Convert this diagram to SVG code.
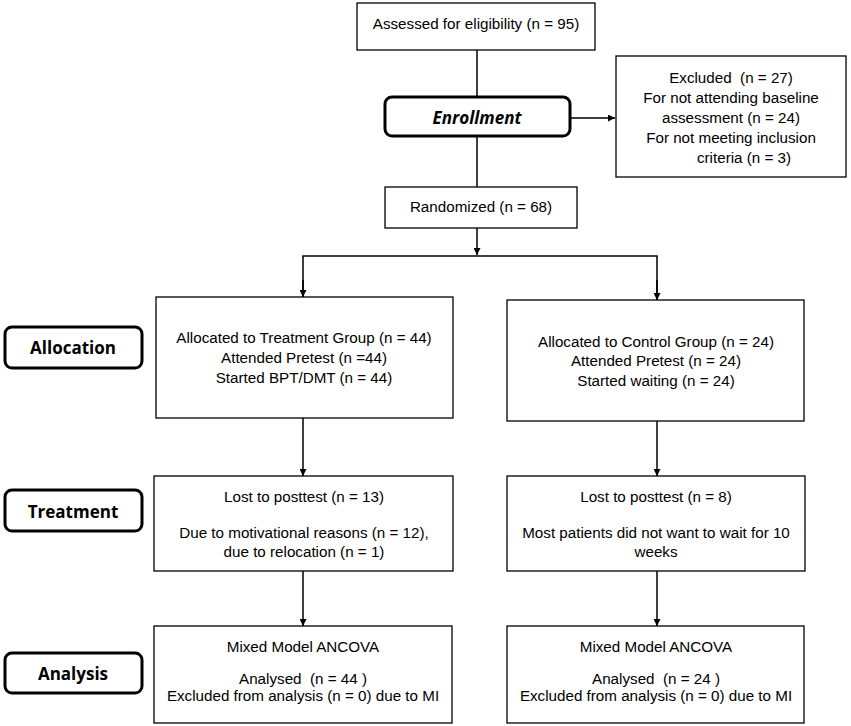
<svg xmlns="http://www.w3.org/2000/svg" width="851" height="726" viewBox="0 0 851 726">
<style>
.box{fill:#fff;stroke:#000;stroke-width:1.3}
.lbl{fill:#fff;stroke:#000;stroke-width:3}
.t{font-family:"Liberation Sans",Arial,sans-serif;font-size:15.2px;fill:#000;text-anchor:middle;white-space:pre}
.b{font-family:"Open Sans","Liberation Sans",sans-serif;font-size:17px;font-weight:bold;fill:#000;text-anchor:middle}
.ln{fill:none;stroke:#000;stroke-width:1.5}
</style>
<defs>
<marker id="ah" viewBox="0 0 10 10" refX="10" refY="5" markerWidth="7" markerHeight="7" orient="auto" markerUnits="userSpaceOnUse">
<path d="M0,0 L10,5 L0,10 z" fill="#000"/>
</marker>
</defs>
<g id="connectors">
<line class="ln" x1="477" y1="50" x2="477" y2="96"/>
<line class="ln" x1="477" y1="136" x2="477" y2="187"/>
<line class="ln" x1="570" y1="118" x2="615" y2="118" marker-end="url(#ah)"/>
<line class="ln" x1="477" y1="228" x2="477" y2="255" marker-end="url(#ah)"/>
<polyline class="ln" points="303,297 303,256 657,256 657,300"/>
<line class="ln" x1="303" y1="280" x2="303" y2="297" marker-end="url(#ah)"/>
<line class="ln" x1="657" y1="280" x2="657" y2="300" marker-end="url(#ah)"/>
<line class="ln" x1="303" y1="418" x2="303" y2="476" marker-end="url(#ah)"/>
<line class="ln" x1="657" y1="421" x2="657" y2="476" marker-end="url(#ah)"/>
<line class="ln" x1="303" y1="571" x2="303" y2="626" marker-end="url(#ah)"/>
<line class="ln" x1="657" y1="571" x2="657" y2="626" marker-end="url(#ah)"/>
</g>
<g id="assessed">
<rect class="box" x="357" y="3" width="238" height="47"/>
<text class="t" x="476" y="29">Assessed for eligibility (n = 95)</text>
</g>
<g id="enrollment">
<rect class="lbl" x="385" y="97" width="185" height="39" rx="7"/>
<text class="b" x="477" y="124" font-style="italic">Enrollment</text>
</g>
<g id="excluded">
<rect class="box" x="616" y="56" width="230" height="121"/>
<text class="t" x="731" y="83">Excluded  (n = 27)</text>
<text class="t" x="731" y="103">For not attending baseline</text>
<text class="t" x="731" y="123">assessment (n = 24)</text>
<text class="t" x="731" y="143">For not meeting inclusion</text>
<text class="t" x="744" y="163">criteria (n = 3)</text>
</g>
<g id="randomized">
<rect class="box" x="385" y="187" width="192" height="41"/>
<text class="t" x="481" y="212">Randomized (n = 68)</text>
</g>
<g id="allocation-label">
<rect class="lbl" x="5" y="327" width="137" height="41" rx="7"/>
<text class="b" x="73" y="354">Allocation</text>
</g>
<g id="treatment-label">
<rect class="lbl" x="5" y="490" width="137" height="41" rx="7"/>
<text class="b" x="73" y="518">Treatment</text>
</g>
<g id="analysis-label">
<rect class="lbl" x="5" y="653" width="137" height="40" rx="7"/>
<text class="b" x="73" y="680">Analysis</text>
</g>
<g id="alloc-treatment">
<rect class="box" x="156" y="297" width="297" height="121"/>
<text class="t" x="304" y="343">Allocated to Treatment Group (n = 44)</text>
<text class="t" x="304" y="363">Attended Pretest (n =44)</text>
<text class="t" x="304" y="383">Started BPT/DMT (n = 44)</text>
</g>
<g id="alloc-control">
<rect class="box" x="507" y="300" width="297" height="121"/>
<text class="t" x="656" y="347">Allocated to Control Group (n = 24)</text>
<text class="t" x="656" y="366">Attended Pretest (n = 24)</text>
<text class="t" x="656" y="386">Started waiting (n = 24)</text>
</g>
<g id="treat-treatment">
<rect class="box" x="154" y="476" width="299" height="95"/>
<text class="t" x="304" y="502">Lost to posttest (n = 13)</text>
<text class="t" x="304" y="538">Due to motivational reasons (n = 12),</text>
<text class="t" x="304" y="557">due to relocation (n = 1)</text>
</g>
<g id="treat-control">
<rect class="box" x="507" y="476" width="298" height="95"/>
<text class="t" x="656" y="502">Lost to posttest (n = 8)</text>
<text class="t" x="656" y="538">Most patients did not want to wait for 10</text>
<text class="t" x="656" y="557">weeks</text>
</g>
<g id="analysis-treatment">
<rect class="box" x="154" y="626" width="298" height="97"/>
<text class="t" x="303" y="652">Mixed Model ANCOVA</text>
<text class="t" x="303" y="684">Analysed  (n = 44 )</text>
<text class="t" x="303" y="701">Excluded from analysis (n = 0) due to MI</text>
</g>
<g id="analysis-control">
<rect class="box" x="507" y="626" width="297" height="97"/>
<text class="t" x="656" y="652">Mixed Model ANCOVA</text>
<text class="t" x="656" y="684">Analysed  (n = 24 )</text>
<text class="t" x="656" y="701">Excluded from analysis (n = 0) due to MI</text>
</g>
</svg>
